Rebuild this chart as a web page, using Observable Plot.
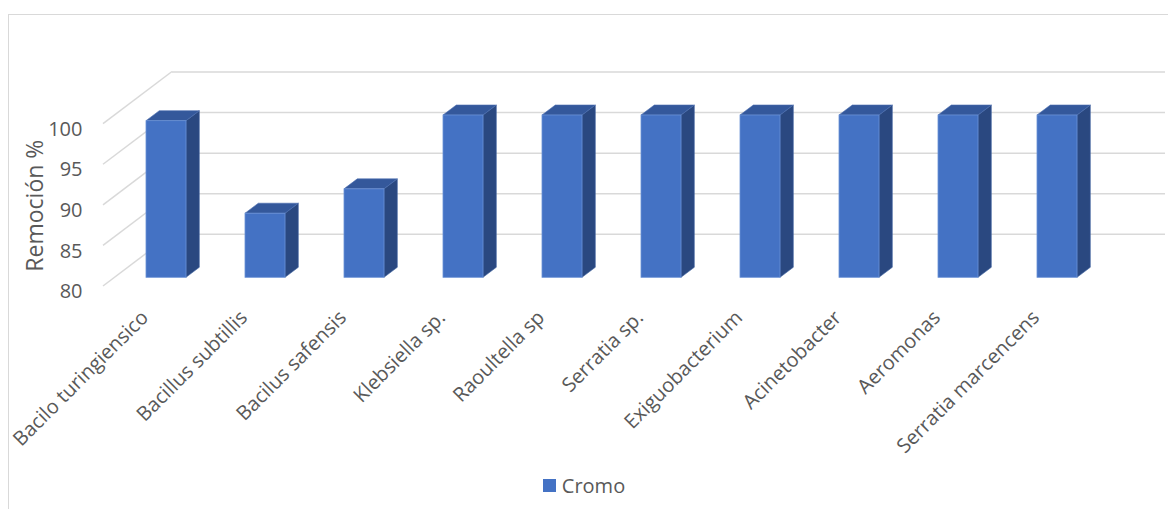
<!DOCTYPE html>
<html>
<head>
<meta charset="utf-8">
<script src="https://cdn.jsdelivr.net/npm/d3@7"></script>
<script src="https://cdn.jsdelivr.net/npm/@observablehq/plot@0.6"></script>
<style>
  html, body { margin: 0; padding: 0; background: #fff; }
  #wrap { position: relative; width: 1168px; height: 509px; overflow: hidden; font-family: "Open Sans", sans-serif; }
  #frame { position: absolute; left: 7.5px; top: 13.5px; width: 1300px; height: 600px;
           border-top: 1.5px solid #d9d9d9; border-left: 1.5px solid #d9d9d9; pointer-events: none; z-index: 2; }
  #chart svg { display: block; }
  #legend { height: 30px; display: flex; justify-content: center; align-items: center; gap: 6px;
            font-size: 20px; color: #595959; }
  #legend .sw { width: 13px; height: 13px; background: #4472C4; display: inline-block; }
</style>
</head>
<body>
<div id="wrap">
  <div id="frame"></div>
  <div id="chart"></div>
  <div id="legend"></div>
</div>
<script>
// ---- data ----
const categories = ["Bacilo turingiensico", "Bacillus subtillis", "Bacilus safensis", "Klebsiella sp.",
  "Raoultella sp", "Serratia sp.", "Exiguobacterium", "Acinetobacter", "Aeromonas", "Serratia marcencens"];
const values = [99.3, 87.9, 90.9, 100, 100, 100, 100, 100, 100, 100];
const yTicks = [80, 85, 90, 95, 100];
const seriesName = "Cromo";
const yLabel = "Remoción %";

const data = categories.map((c, i) => ({cat: c, value: values[i]}));

// 3D geometry (pixels)
const depth = {dx: 13.3, dy: -10};          // bar depth
const backOff = {dx: 57.5, dy: -43.5};      // back wall offset from bar plane
const frontOff = {dx: -11.5, dy: 8.7};      // front plane offset from bar plane
const colors = {front: "#4472C4", top: "#34589B", side: "#2A4880", grid: "#d9d9d9", text: "#595959"};

function diagonals(index, scales, values, dimensions) {
  const g = d3.create("svg:g");
  const x0 = dimensions.marginLeft;
  for (const t of yTicks) {
    const y = scales.y(t);
    g.append("line")
      .attr("x1", x0 + frontOff.dx).attr("y1", y + frontOff.dy)
      .attr("x2", x0 + backOff.dx).attr("y2", y + backOff.dy)
      .attr("stroke", colors.grid).attr("stroke-width", 1.5);
  }
  return g.node();
}

function bars3d(index, scales, values, dimensions) {
  const g = d3.create("svg:g");
  const bw = scales.x.bandwidth ? scales.x.bandwidth() : 40;
  const yb = scales.y(80);
  for (const d of data) {
    const x0 = scales.x(d.cat), x1 = x0 + bw, yt = scales.y(d.value);
    g.append("polygon")
      .attr("points", [[x1, yb], [x1, yt], [x1 + depth.dx, yt + depth.dy], [x1 + depth.dx, yb + depth.dy]].join(" "))
      .attr("fill", colors.side).attr("stroke", "#3b5f9e").attr("stroke-width", 0.6);
    g.append("polygon")
      .attr("points", [[x0, yt], [x0 + depth.dx, yt + depth.dy], [x1 + depth.dx, yt + depth.dy], [x1, yt]].join(" "))
      .attr("fill", colors.top).attr("stroke", "#4a6db0").attr("stroke-width", 0.6);
  }
  return g.node();
}

const plot = Plot.plot({
  width: 1168,
  height: 470,
  marginLeft: 114.5,
  marginRight: 60.5,
  marginTop: 115,
  marginBottom: 192.7,
  style: {fontFamily: "'Open Sans', sans-serif", color: colors.text, background: "transparent"},
  x: {domain: categories, paddingInner: 0.6, paddingOuter: 0.3, axis: null},
  y: {domain: [80, 100], axis: null},
  marks: [
    Plot.ruleY(yTicks, {stroke: colors.grid, strokeWidth: 1.5, dx: backOff.dx, dy: backOff.dy}),
    diagonals,
    bars3d,
    Plot.barY(data, {x: "cat", y1: 80, y2: "value", fill: colors.front, stroke: "#6a92d6", strokeWidth: 0.8}),
    Plot.axisY(yTicks, {tickSize: 0, tickPadding: 32.5, dy: 14, fontSize: 20, label: null, fill: colors.text}),
    Plot.text([yLabel], {frameAnchor: "left", textAnchor: "middle", rotate: -90, dx: -79.5, dy: 9, fontSize: 23, fill: colors.text}),
    Plot.text(categories, {x: d => d, text: d => d, frameAnchor: "bottom", rotate: -45, textAnchor: "end",
      lineAnchor: "top", dx: -27, dy: 31, fontSize: 20, fill: colors.text})
  ]
});
document.getElementById("chart").appendChild(plot);

const lg = document.getElementById("legend");
lg.innerHTML = `<span class="sw"></span><span>${seriesName}</span>`;
</script>
</body>
</html>
